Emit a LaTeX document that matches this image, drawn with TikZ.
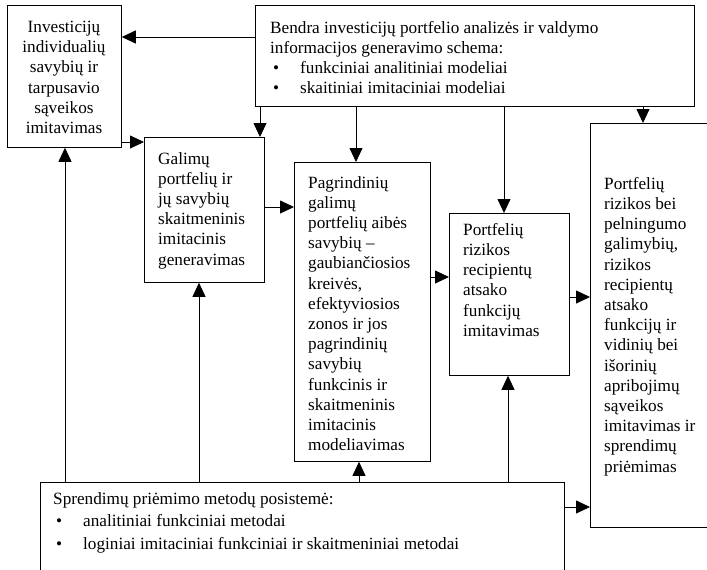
\documentclass[tikz,border=0pt]{standalone}
\usepackage{fontspec}
\setmainfont{Liberation Serif}
\usetikzlibrary{arrows.meta}
\begin{document}
\begin{tikzpicture}[x=1pt,y=-1pt,
  box/.style={draw, line width=0.8pt, inner sep=0pt, anchor=north west},
  txt/.style={inner sep=0pt, anchor=north west, align=left, font=\fontsize{17.2}{20.2}\selectfont},
  arr/.style={line width=0.8pt, -{Triangle[length=14pt,width=13pt]}}]
\useasboundingbox (0,0) rectangle (707,570);
% boxes
\node[box, minimum width=114pt, minimum height=142pt] (A) at (7,5) {};
\node[box, minimum width=439pt, minimum height=101pt] (B) at (255,5) {};
\node[box, minimum width=120pt, minimum height=145pt] (C) at (144,137) {};
\node[box, minimum width=136pt, minimum height=299pt] (D) at (294,162) {};
\node[box, minimum width=120pt, minimum height=162pt] (E) at (449,213) {};
\node[box, minimum width=130pt, minimum height=404pt] (F) at (590,123) {};
\node[box, minimum width=524pt, minimum height=108pt] (G) at (40,482) {};
% texts
\node[txt, anchor=north, align=center] (tA) at (64,21) {Investicijų\\individualių\\savybių ir\\tarpusavio\\sąveikos\\imitavimas};
\node[txt] (tB) at (270,21) {Bendra investicijų portfelio analizės ir valdymo\\informacijos generavimo schema:\\\hspace*{3pt}\makebox[27pt][l]{•}funkciniai analitiniai modeliai\\\hspace*{3pt}\makebox[27pt][l]{•}skaitiniai imitaciniai modeliai};
\node[txt] (tC) at (158,152) {Galimų\\portfelių ir\\jų savybių\\skaitmeninis\\imitacinis\\generavimas};
\node[txt] (tD) at (308,176) {Pagrindinių\\galimų\\portfelių aibės\\savybių –\\gaubiančiosios\\kreivės,\\efektyviosios\\zonos ir jos\\pagrindinių\\savybių\\funkcinis ir\\skaitmeninis\\imitacinis\\modeliavimas};
\node[txt] (tE) at (463,223) {Portfelių\\rizikos\\recipientų\\atsako\\funkcijų\\imitavimas};
\node[txt] (tF) at (604,177) {Portfelių\\rizikos bei\\pelningumo\\galimybių,\\rizikos\\recipientų\\atsako\\funkcijų ir\\vidinių bei\\išorinių\\apribojimų\\sąveikos\\imitavimas ir\\sprendimų\\priėmimas};
\node[txt, font=\fontsize{17.2}{22.5}\selectfont] (tG) at (53,492) {Sprendimų priėmimo metodų posistemė:\\\hspace*{3pt}\makebox[27pt][l]{•}analitiniai funkciniai metodai\\\hspace*{3pt}\makebox[27pt][l]{•}loginiai imitaciniai funkciniai ir skaitmeniniai metodai};
% connectors
\draw[arr] (B.west |- 0,37) -- (A.east |- 0,37);
\draw[arr] (A.east |- 0,142) -- (C.west |- 0,142);
\draw[arr] (B.south -| 260,0) -- (C.north -| 260,0);
\draw[arr] (B.south -| 356,0) -- (D.north -| 356,0);
\draw[arr] (B.south -| 504,0) -- (E.north -| 504,0);
\draw[arr] (B.south -| 643,0) -- (F.north -| 643,0);
\draw[arr] (C.east |- 0,207) -- (D.west |- 0,207);
\draw[arr] (D.east |- 0,277) -- (E.west |- 0,277);
\draw[arr] (E.east |- 0,297) -- (F.west |- 0,297);
\draw[arr] (G.east |- 0,507) -- (F.west |- 0,507);
\draw[arr] (G.north -| 65,0) -- (A.south -| 65,0);
\draw[arr] (G.north -| 199,0) -- (C.south -| 199,0);
\draw[arr] (G.north -| 359,0) -- (D.south -| 359,0);
\draw[arr] (G.north -| 508,0) -- (E.south -| 508,0);
\end{tikzpicture}
\end{document}
